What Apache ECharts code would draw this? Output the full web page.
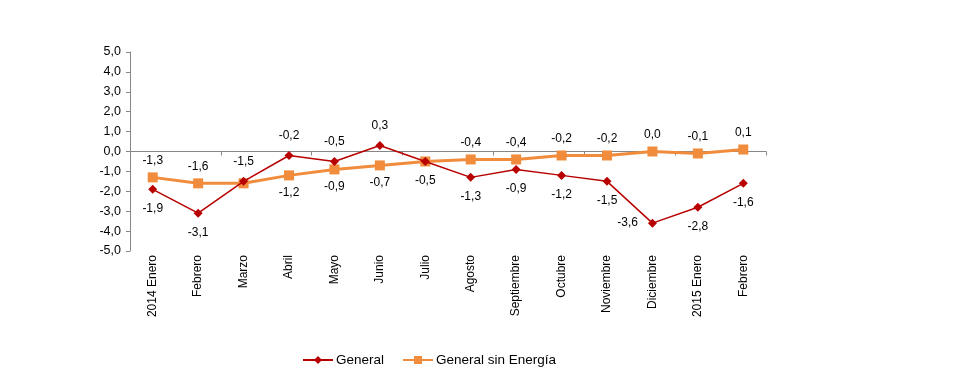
<!DOCTYPE html>
<html>
<head>
<meta charset="utf-8">
<script src="https://cdn.jsdelivr.net/npm/echarts@6/dist/echarts.min.js"></script>
<style>
html,body{margin:0;padding:0;background:#fff;}
#c{width:975px;height:390px;}
</style>
</head>
<body>
<div id="c"></div>
<script>
var categories = ['2014 Enero','Febrero','Marzo','Abril','Mayo','Junio','Julio','Agosto','Septiembre','Octubre','Noviembre','Diciembre','2015 Enero','Febrero'];
var generalValues = [-1.9,-3.1,-1.5,-0.2,-0.5,0.3,-0.5,-1.3,-0.9,-1.2,-1.5,-3.6,-2.8,-1.6];
var sinEnergiaValues = [-1.3,-1.6,-1.6,-1.2,-0.9,-0.7,-0.5,-0.4,-0.4,-0.2,-0.2,0.0,-0.1,0.1];
var yTicks = {min:-5, max:5, interval:1};

// label placement (style only)
var generalLabelPos = ['bottom','bottom','top','top','top','top','bottom','bottom','bottom','bottom','bottom','left','bottom','bottom'];
var sinLabelPos = ['top','top',null,'bottom','bottom','bottom',null,'top','top','top','top','top','top','top'];

function fmt(v){ return v.toFixed(1).replace('.', ','); }
function build(values, pos, dist){
  return values.map(function(v,i){
    var p = pos[i];
    if(!p) return {value:v, label:{show:false}};
    return {value:v, label:{show:true, position:p, distance: p==='left'?10:dist}};
  });
}

var chart = echarts.init(document.getElementById('c'));
var font = 'Liberation Sans, Arial, sans-serif';
chart.setOption({
  animation:false,
  textStyle:{fontFamily:font},
  grid:{left:130, right:209, top:52, bottom:139},
  legend:{
    bottom:18, left:297, itemGap:18, itemWidth:30, itemHeight:10,
    textStyle:{fontFamily:font, fontSize:13.5, color:'#000', padding:[0,0,0,-2]},
    data:['General','General sin Energía']
  },
  xAxis:[{
    type:'category', data:categories, position:'bottom', boundaryGap:true,
    axisLine:{onZero:true, lineStyle:{color:'#868686', width:1}},
    axisTick:{show:true, length:4, inside:false, lineStyle:{color:'#868686'}},
    axisLabel:{show:false}
  },{
    type:'category', data:categories, position:'bottom', boundaryGap:true,
    axisLine:{show:false, onZero:false}, axisTick:{show:false},
    axisLabel:{rotate:90, margin:4, fontFamily:font, fontSize:12, color:'#000', interval:0}
  }],
  yAxis:{
    type:'value', min:yTicks.min, max:yTicks.max, interval:yTicks.interval,
    splitLine:{show:false},
    axisLine:{show:true, lineStyle:{color:'#868686'}},
    axisTick:{show:true, length:4, lineStyle:{color:'#868686'}},
    axisLabel:{fontFamily:font, fontSize:12.5, color:'#000', margin:9, formatter:function(v){return fmt(v);}}
  },
  series:[{
    name:'General', type:'line', xAxisIndex:0,
    data: build(generalValues, generalLabelPos, 9),
    symbol:'diamond', symbolSize:9,
    lineStyle:{color:'#B80000', width:1.5},
    itemStyle:{color:'#B80000'},
    label:{fontFamily:font, fontSize:12, color:'#000', formatter:function(p){return fmt(p.value);}},
    z:3
  },{
    name:'General sin Energía', type:'line', xAxisIndex:0,
    data: build(sinEnergiaValues, sinLabelPos, 6),
    symbol:'rect', symbolSize:10,
    lineStyle:{color:'#F08C3C', width:3},
    itemStyle:{color:'#F08C3C'},
    label:{fontFamily:font, fontSize:12, color:'#000', formatter:function(p){return fmt(p.value);}},
    z:2
  }]
});
</script>
</body>
</html>
